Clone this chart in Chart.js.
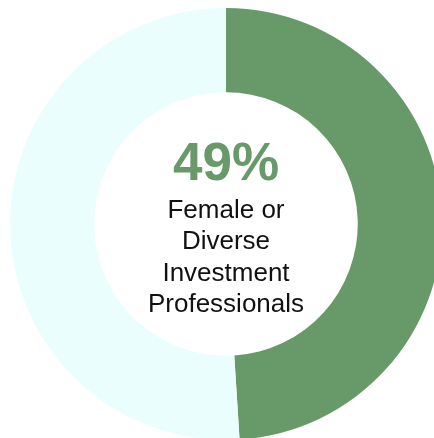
<!DOCTYPE html>
<html>
<head>
<meta charset="utf-8">
<script src="https://cdn.jsdelivr.net/npm/chart.js@4/dist/chart.umd.min.js"></script>
<style>
    html, body { margin: 0; padding: 0; background: #fff; overflow: hidden; width: 434px; height: 438px; }
    #wrap { position: absolute; left: 10px; top: 8px; width: 432px; height: 432px; }
</style>
</head>
<body>
<div id="wrap"><canvas id="donut" width="432" height="432"></canvas></div>
<script>
const labels = ['Female or Diverse', 'Other'];
const shares = [49, 51];
const colors = ['#679a68', '#ebfefe'];
const headline = '49%';
const caption = ['Female or', 'Diverse', 'Investment', 'Professionals'];

// writes the headline and caption in the hole of the doughnut
const centerText = {
    id: 'centerText',
    afterDraw(chart) {
        const ctx = chart.ctx;
        const arc = chart.getDatasetMeta(0).data[0];
        const cx = arc.x, cy = arc.y;
        ctx.save();
        ctx.textAlign = 'center';
        ctx.textBaseline = 'alphabetic';
        ctx.fillStyle = '#679a68';
        ctx.font = 'bold 53px "Liberation Sans", Arial, sans-serif';
        ctx.fillText(headline, cx, cy - 44);
        ctx.fillStyle = '#111';
        ctx.font = '26px "Liberation Sans", Arial, sans-serif';
        caption.forEach((line, i) => {
            ctx.fillText(line, cx, cy - 6.5 + i * 31.5);
        });
        ctx.restore();
    }
};

new Chart(document.getElementById('donut'), {
    type: 'doughnut',
    data: {
        labels: labels,
        datasets: [{
            data: shares,
            backgroundColor: colors,
            borderWidth: 0
        }]
    },
    options: {
        responsive: false,
        animation: false,
        cutout: '61%',
        plugins: {
            legend: { display: false },
            tooltip: { enabled: false }
        }
    },
    plugins: [centerText]
});
</script>
</body>
</html>
